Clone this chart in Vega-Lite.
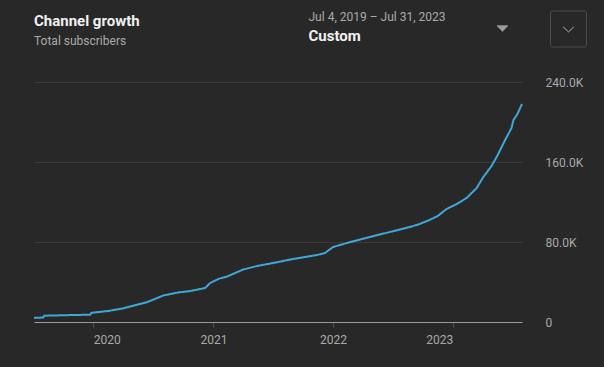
{
  "$schema": "https://vega.github.io/schema/vega-lite/v6.json",
  "width": 488,
  "height": 240,
  "autosize": {"type": "none"},
  "padding": {"left": 34, "top": 82, "right": 82, "bottom": 45},
  "background": "#282828",
  "config": {
    "view": {"stroke": null},
    "font": "Roboto",
    "axis": {"labelFont": "Roboto", "titleFont": "Roboto"},
    "legend": {"padding": 0}
  },
  "title": {
    "text": "Channel growth",
    "subtitle": "Total subscribers",
    "anchor": "start",
    "frame": "group",
    "offset": -37,
    "subtitlePadding": 7,
    "font": "Roboto",
    "fontSize": 15,
    "fontWeight": "bold",
    "color": "#f1f1f1",
    "subtitleFont": "Roboto",
    "subtitleFontSize": 12,
    "subtitleColor": "#aaaaaa"
  },
  "data": {
    "values": [
      {"date": "2019-07-04", "subs": 4300},
      {"date": "2019-08-01", "subs": 4400},
      {"date": "2019-08-04", "subs": 6300},
      {"date": "2019-09-25", "subs": 6700},
      {"date": "2019-12-22", "subs": 7300},
      {"date": "2019-12-26", "subs": 9200},
      {"date": "2020-02-15", "subs": 11000},
      {"date": "2020-04-02", "subs": 13700},
      {"date": "2020-06-14", "subs": 20000},
      {"date": "2020-08-01", "subs": 26500},
      {"date": "2020-09-15", "subs": 29500},
      {"date": "2020-10-23", "subs": 31000},
      {"date": "2020-12-07", "subs": 34000},
      {"date": "2020-12-22", "subs": 39000},
      {"date": "2021-01-16", "subs": 43000},
      {"date": "2021-02-12", "subs": 45500},
      {"date": "2021-04-02", "subs": 52500},
      {"date": "2021-05-14", "subs": 56000},
      {"date": "2021-07-02", "subs": 59000},
      {"date": "2021-09-01", "subs": 63000},
      {"date": "2021-11-13", "subs": 67000},
      {"date": "2021-12-07", "subs": 69000},
      {"date": "2022-01-01", "subs": 75000},
      {"date": "2022-01-22", "subs": 77000},
      {"date": "2022-02-12", "subs": 79000},
      {"date": "2022-04-23", "subs": 85000},
      {"date": "2022-06-23", "subs": 90000},
      {"date": "2022-08-23", "subs": 95000},
      {"date": "2022-09-22", "subs": 98000},
      {"date": "2022-10-22", "subs": 102000},
      {"date": "2022-11-16", "subs": 106000},
      {"date": "2022-12-13", "subs": 113000},
      {"date": "2023-01-13", "subs": 118000},
      {"date": "2023-02-12", "subs": 124000},
      {"date": "2023-03-15", "subs": 134000},
      {"date": "2023-04-02", "subs": 144000},
      {"date": "2023-04-29", "subs": 156000},
      {"date": "2023-05-18", "subs": 167000},
      {"date": "2023-06-08", "subs": 181000},
      {"date": "2023-06-29", "subs": 194000},
      {"date": "2023-07-05", "subs": 202000},
      {"date": "2023-07-17", "subs": 208000},
      {"date": "2023-07-31", "subs": 218000}
    ]
  },
  "mark": {"type": "line", "strokeWidth": 2, "interpolate": "linear", "color": "#3fa8d8"},
  "encoding": {
    "x": {
      "field": "date",
      "type": "temporal",
      "scale": {
        "domain": [{"year": 2019, "month": 7, "date": 4}, {"year": 2023, "month": 7, "date": 31}],
        "nice": false
      },
      "axis": {
        "orient": "bottom",
        "values": [{"year": 2020}, {"year": 2021}, {"year": 2022}, {"year": 2023}],
        "labelExpr": "timeFormat(datum.value, '%Y')",
        "grid": false,
        "domainColor": "#9a9a9a",
        "domainWidth": 1,
        "tickColor": "#4f4f4f",
        "tickSize": 5,
        "labelPadding": 7,
        "labelColor": "#aaaaaa",
        "labelFontSize": 12,
        "labelAlign": {
          "condition": [
            {"test": "year(datum.value) == 2020", "value": "left"},
            {"test": "year(datum.value) == 2023", "value": "right"}
          ],
          "value": "center"
        },
        "title": "Jul 4, 2019 – Jul 31, 2023",
        "titleX": 274,
        "titleY": -302,
        "titleAlign": "left",
        "titleBaseline": "alphabetic",
        "titleFontSize": 12,
        "titleFontWeight": "normal",
        "titleColor": "#aaaaaa"
      }
    },
    "y": {
      "field": "subs",
      "type": "quantitative",
      "scale": {"domain": [0, 240000], "nice": false},
      "axis": {
        "orient": "right",
        "values": [0, 80000, 160000, 240000],
        "labelExpr": "datum.value == 0 ? '0' : format(datum.value / 1000, '.1f') + 'K'",
        "grid": true,
        "gridColor": "#3a3a3a",
        "gridWidth": 1,
        "domain": false,
        "ticks": false,
        "labelPadding": 23,
        "labelAlign": "left",
        "labelBaseline": "middle",
        "labelColor": "#aaaaaa",
        "labelFontSize": 12,
        "title": "Custom",
        "titleAngle": 0,
        "titleX": -214,
        "titleY": -41.3,
        "titleAlign": "left",
        "titleBaseline": "alphabetic",
        "titleFontSize": 15,
        "titleFontWeight": "bold",
        "titleColor": "#f1f1f1"
      }
    },
    "opacity": {
      "datum": "menu",
      "type": "ordinal",
      "scale": {"range": [1]},
      "legend": {
        "orient": "none",
        "legendX": 516,
        "legendY": -71.5,
        "title": null,
        "labelExpr": "''",
        "symbolType": "M-0.9,-1H0.9Q1,-1 1,-0.9V0.9Q1,1 0.9,1H-0.9Q-1,1 -1,0.9V-0.9Q-1,-1 -0.9,-1Z",
        "symbolSize": 1296,
        "symbolStrokeWidth": 1,
        "symbolStrokeColor": "#4a4a4a",
        "symbolFillColor": "transparent"
      }
    },
    "strokeDash": {
      "datum": "chev",
      "scale": {"range": [[1, 0]]},
      "legend": {
        "orient": "none",
        "legendX": 516,
        "legendY": -71.5,
        "title": null,
        "labelExpr": "''",
        "symbolType": "M-0.3,-0.12L0,0.16L0.3,-0.12M-3.972,-0.167H-3.361M-3.917,-0.111H-3.417M-3.861,-0.056H-3.472M-3.806,0H-3.528M-3.75,0.056H-3.583M-3.694,0.111H-3.639",
        "symbolSize": 1296,
        "symbolStrokeWidth": 1,
        "symbolStrokeColor": "#c4c4c4",
        "symbolFillColor": "transparent"
      }
    }
  }
}
